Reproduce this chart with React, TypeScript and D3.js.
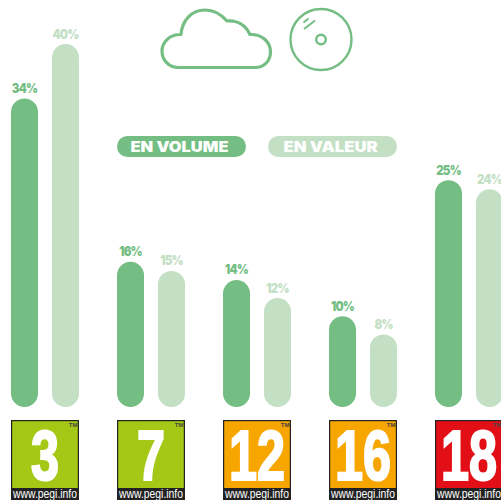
import React from "react";
import * as d3 from "d3";

const ratings = ["3", "7", "12", "16", "18"];
const volume = [34, 16, 14, 10, 25];
const valeur = [40, 15, 12, 8, 24];
const badgeColors = ["#A4C815", "#A4C815", "#F7A600", "#F7A600", "#E30F17"];
const legend = ["EN VOLUME", "EN VALEUR"];
const GREEN = "#75BE83";
const PALE = "#C3E0C5";
const LABEL_FONT = "Inter, Lato, sans-serif";

const W = 501;
const H = 500;
const y = d3.scaleLinear().domain([0, 40]).range([407, 44]);
const x = d3.scaleLinear().domain([0, 4]).range([11, 435]);
const BAR_W = 27;
const BAR_GAP = 41;

function Bar({ left, value, fill, labelFill }: { left: number; value: number; fill: string; labelFill: string }) {
  const top = y(value);
  return (
    <g>
      <rect x={left} y={top} width={BAR_W} height={y(0) - top} rx={13.5} ry={13.5} fill={fill} />
      <text
        transform={`translate(${left + BAR_W / 2},${top - 5.5}) scale(0.85,1)`}
        textAnchor="middle"
        fontFamily={LABEL_FONT}
        fontWeight={900}
        fontSize={13.5}
        letterSpacing={-0.9}
        fill={labelFill}
      >
        {value}%
      </text>
    </g>
  );
}

function Badge({ left, label, color }: { left: number; label: string; color: string }) {
  return (
    <g>
      <rect x={left} y={420} width={68} height={80} fill="#222" />
      <rect x={left + 1.2} y={421.2} width={65.6} height={66.8} fill={color} />
      <text
        transform={`translate(${left + 34},480) scale(0.72,1)`}
        textAnchor="middle"
        fontFamily="'Liberation Sans', sans-serif"
        fontWeight={700}
        fontSize={70}
        stroke="#fff"
        strokeWidth={2.2}
        fill="#fff"
      >
        {label}
      </text>
      <text
        x={left + 34}
        y={498}
        textAnchor="middle"
        fontFamily="'Liberation Sans', sans-serif"
        fontSize={12}
        textLength={64}
        lengthAdjust="spacingAndGlyphs"
        fill="#fff"
      >
        www.pegi.info
      </text>
      <text
        x={left + 66.5}
        y={427}
        textAnchor="end"
        fontFamily="'Liberation Sans', sans-serif"
        fontWeight={700}
        fontSize={6}
        fill="#444"
      >
        TM
      </text>
    </g>
  );
}

export default function App() {
  return (
    <svg
      width={W}
      height={H}
      viewBox={`0 0 ${W} ${H}`}
      style={{ position: "fixed", left: 0, top: 0, display: "block", background: "#fff" }}
    >
      <path
        d="M178 67.5 H255 C265 67.5 270.5 60 270.5 52 C270.5 42 262 34 250 34.5 C246 26 238 20 227 21 C221 14 214 10 205 10 C192 10 182 20 181 34.5 C169 34 162 43 162 51 C162 60 169 67.5 178 67.5 Z"
        fill="none"
        stroke={GREEN}
        strokeWidth={3.2}
        strokeLinejoin="round"
      />
      <circle cx={321} cy={39.5} r={30.5} fill="none" stroke={GREEN} strokeWidth={2.4} />
      <circle cx={321} cy={39.5} r={4.8} fill="none" stroke={GREEN} strokeWidth={2.4} />
      <path d="M304 29 L315 20.5 M303.5 22.5 L308.5 18.5" fill="none" stroke={GREEN} strokeWidth={2} />

      {legend.map((t, i) => {
        const left = x(i + 1) + (i === 0 ? 0 : 45);
        return (
          <g key={t}>
            <rect x={left} y={136} width={129} height={21} rx={10.5} fill={i === 0 ? GREEN : PALE} />
            <text
              x={left + (i === 0 ? 13.5 : 15.5)}
              y={151.5}
              fontFamily={LABEL_FONT}
              fontWeight={900}
              fontSize={14}
              textLength={i === 0 ? 98 : 94}
              lengthAdjust="spacingAndGlyphs"
              fill="#fff"
            >
              {t}
            </text>
          </g>
        );
      })}

      {ratings.map((r, i) => (
        <g key={r}>
          <Bar left={x(i)} value={volume[i]} fill={GREEN} labelFill={GREEN} />
          <Bar left={x(i) + BAR_GAP} value={valeur[i]} fill={PALE} labelFill={PALE} />
          <Badge left={x(i)} label={r} color={badgeColors[i]} />
        </g>
      ))}
    </svg>
  );
}
